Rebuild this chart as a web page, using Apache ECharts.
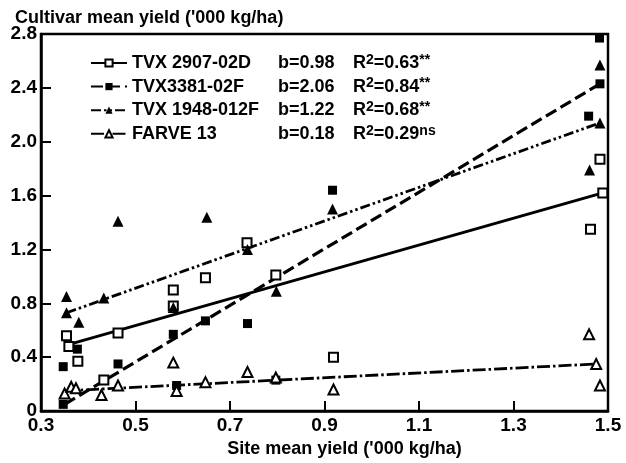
<!DOCTYPE html>
<html>
<head>
<meta charset="utf-8">
<script src="https://cdn.jsdelivr.net/npm/echarts@6/dist/echarts.min.js"></script>
<style>html,body{margin:0;padding:0;background:#fff;}#c{width:626px;height:463px;}</style>
</head>
<body>
<div id="c"></div>
<script>
// ---- data ----
const cultivars = ['TVX 2907-02D', 'TVX3381-02F', 'TVX 1948-012F', 'FARVE 13'];
const slopes = ['0.98', '2.06', '1.22', '0.18'];
const rSquared = ['0.63', '0.84', '0.68', '0.29'];
const significance = ['**', '**', '**', 'ns'];

const tvx2907X = [0.354, 0.359, 0.378, 0.433, 0.463, 0.580, 0.580, 0.648, 0.736, 0.797, 0.919, 1.463, 1.483, 1.489];
const tvx2907Y = [0.56, 0.48, 0.37, 0.23, 0.58, 0.90, 0.78, 0.99, 1.25, 1.01, 0.40, 1.35, 1.87, 1.62];

const tvx3381X = [0.347, 0.347, 0.377, 0.463, 0.580, 0.587, 0.648, 0.737, 0.797, 0.917, 1.459, 1.482, 1.483];
const tvx3381Y = [0.33, 0.05, 0.46, 0.35, 0.57, 0.19, 0.67, 0.65, 0.23, 1.64, 2.19, 2.77, 2.43];

const tvx1948X = [0.354, 0.354, 0.380, 0.433, 0.463, 0.580, 0.651, 0.737, 0.798, 0.917, 1.461, 1.483, 1.483];
const tvx1948Y = [0.85, 0.73, 0.66, 0.84, 1.41, 0.77, 1.44, 1.20, 0.89, 1.50, 1.79, 2.14, 2.57];

const farveX = [0.350, 0.364, 0.374, 0.428, 0.463, 0.580, 0.587, 0.648, 0.737, 0.797, 0.919, 1.460, 1.475, 1.483];
const farveY = [0.13, 0.18, 0.17, 0.12, 0.19, 0.36, 0.15, 0.215, 0.29, 0.25, 0.16, 0.57, 0.35, 0.19];

// regression line end points
const fit2907X = [0.354, 1.489]; const fit2907Y = [0.49, 1.62];
const fit3381X = [0.350, 1.483]; const fit3381Y = [0.05, 2.43];
const fit1948X = [0.354, 1.483]; const fit1948Y = [0.73, 2.14];
const fitFarveX = [0.350, 1.475]; const fitFarveY = [0.15, 0.35];

const xTickValues = [0.3, 0.5, 0.7, 0.9, 1.1, 1.3, 1.5];
const xTickLabels = ['0.3', '0.5', '0.7', '0.9', '1.1', '1.3', '1.5'];
const yTickValues = [0, 0.4, 0.8, 1.2, 1.6, 2.0, 2.4, 2.8];
const yTickLabels = ['0', '0.4', '0.8', '1.2', '1.6', '2.0', '2.4', '2.8'];

// ---- chart ----
const zip = (xs, ys) => xs.map((x, i) => [x, ys[i]]);
const FONT = 'Liberation Sans';
const styles = [
  { symbol: 'emptyRect', size: 9, line: { type: 'solid', width: 3 } },
  { symbol: 'rect', size: 9, line: { type: [12, 5], width: 3.2 } },
  { symbol: 'triangle', size: 11, line: { type: [10, 3, 2.5, 3, 2.5, 3], width: 2.8 } },
  { symbol: 'emptyTriangle', size: 10, line: { type: [13, 3, 2.5, 3], width: 2.8 } }
];
const pts = [zip(tvx2907X, tvx2907Y), zip(tvx3381X, tvx3381Y), zip(tvx1948X, tvx1948Y), zip(farveX, farveY)];
const fits = [zip(fit2907X, fit2907Y), zip(fit3381X, fit3381Y), zip(fit1948X, fit1948Y), zip(fitFarveX, fitFarveY)];

const series = [];
cultivars.forEach((name, i) => {
  series.push({
    name, type: 'line', data: fits[i], symbol: styles[i].symbol, showSymbol: false,
    lineStyle: { color: '#000', width: styles[i].line.width, type: styles[i].line.type },
    itemStyle: { color: '#000' }, z: 2, silent: true, animation: false
  });
});
cultivars.forEach((name, i) => {
  series.push({
    name, type: 'scatter', data: pts[i], symbol: styles[i].symbol, symbolSize: styles[i].size,
    itemStyle: { color: '#000', borderColor: '#000', borderWidth: styles[i].symbol.startsWith('empty') ? 2 : 0, opacity: 1 },
    z: 3, animation: false
  });
});

const chart = echarts.init(document.getElementById('c'), null, { renderer: 'canvas' });
chart.setOption({
  backgroundColor: '#fff',
  animation: false,
  textStyle: { fontFamily: FONT, color: '#000' },
  title: {
    text: "Cultivar mean yield ('000 kg/ha)", left: 10, top: 4,
    textStyle: { fontFamily: FONT, fontSize: 18, fontWeight: 'bold', color: '#000' }
  },
  grid: { left: 41, right: 18, top: 34, bottom: 48, show: true, borderColor: '#000', borderWidth: 2.5, backgroundColor: 'transparent' },
  legend: {
    orient: 'vertical', left: 85, top: 48, itemWidth: 36, itemHeight: 9, itemGap: 1.6,
    data: cultivars,
    textStyle: {
      fontFamily: FONT, color: '#000',
      rich: {
        n: { fontFamily: FONT, fontSize: 18, fontWeight: 'bold', width: 146, lineHeight: 20 },
        b: { fontFamily: FONT, fontSize: 18, fontWeight: 'bold', width: 75, lineHeight: 20 },
        r: { fontFamily: FONT, fontSize: 18, fontWeight: 'bold', lineHeight: 20 },
        s: { fontFamily: FONT, fontSize: 14, fontWeight: 'bold', verticalAlign: 'top', lineHeight: 20, padding: [0, 0, 8, 0] }
      }
    },
    formatter: (name) => {
      const i = cultivars.indexOf(name);
      return '{n|' + name + '}{b|b=' + slopes[i] + '}{r|R}{s|2}{r|=' + rSquared[i] + '}{s|' + significance[i] + '}';
    }
  },
  xAxis: {
    type: 'value', min: 0.3, max: 1.5,
    name: "Site mean yield ('000 kg/ha)", nameLocation: 'middle', nameGap: 25,
    nameTextStyle: { fontFamily: FONT, fontSize: 18, fontWeight: 'bold', color: '#000', padding: [0, 0, 0, 40] },
    axisLine: { lineStyle: { color: '#000', width: 2.5 } },
    axisTick: { inside: true, length: 10, lineStyle: { color: '#000', width: 2 }, customValues: xTickValues },
    axisLabel: {
      customValues: xTickValues, margin: 5,
      formatter: (v) => { const i = xTickValues.findIndex(t => Math.abs(t - v) < 1e-6); return i >= 0 ? xTickLabels[i] : ''; },
      fontFamily: FONT, fontSize: 19, fontWeight: 'bold', color: '#000'
    },
    splitLine: { show: false }
  },
  yAxis: {
    type: 'value', min: 0, max: 2.8, interval: 0.4,
    axisLine: { show: true, lineStyle: { color: '#000', width: 2.5 } },
    axisTick: { show: true, inside: true, length: 10, lineStyle: { color: '#000', width: 2 } },
    axisLabel: {
      margin: 4,
      formatter: (v) => { const i = yTickValues.findIndex(t => Math.abs(t - v) < 1e-6); return i >= 0 ? yTickLabels[i] : ''; },
      fontFamily: FONT, fontSize: 19, fontWeight: 'bold', color: '#000'
    },
    splitLine: { show: false }
  },
  series
});
</script>
</body>
</html>
